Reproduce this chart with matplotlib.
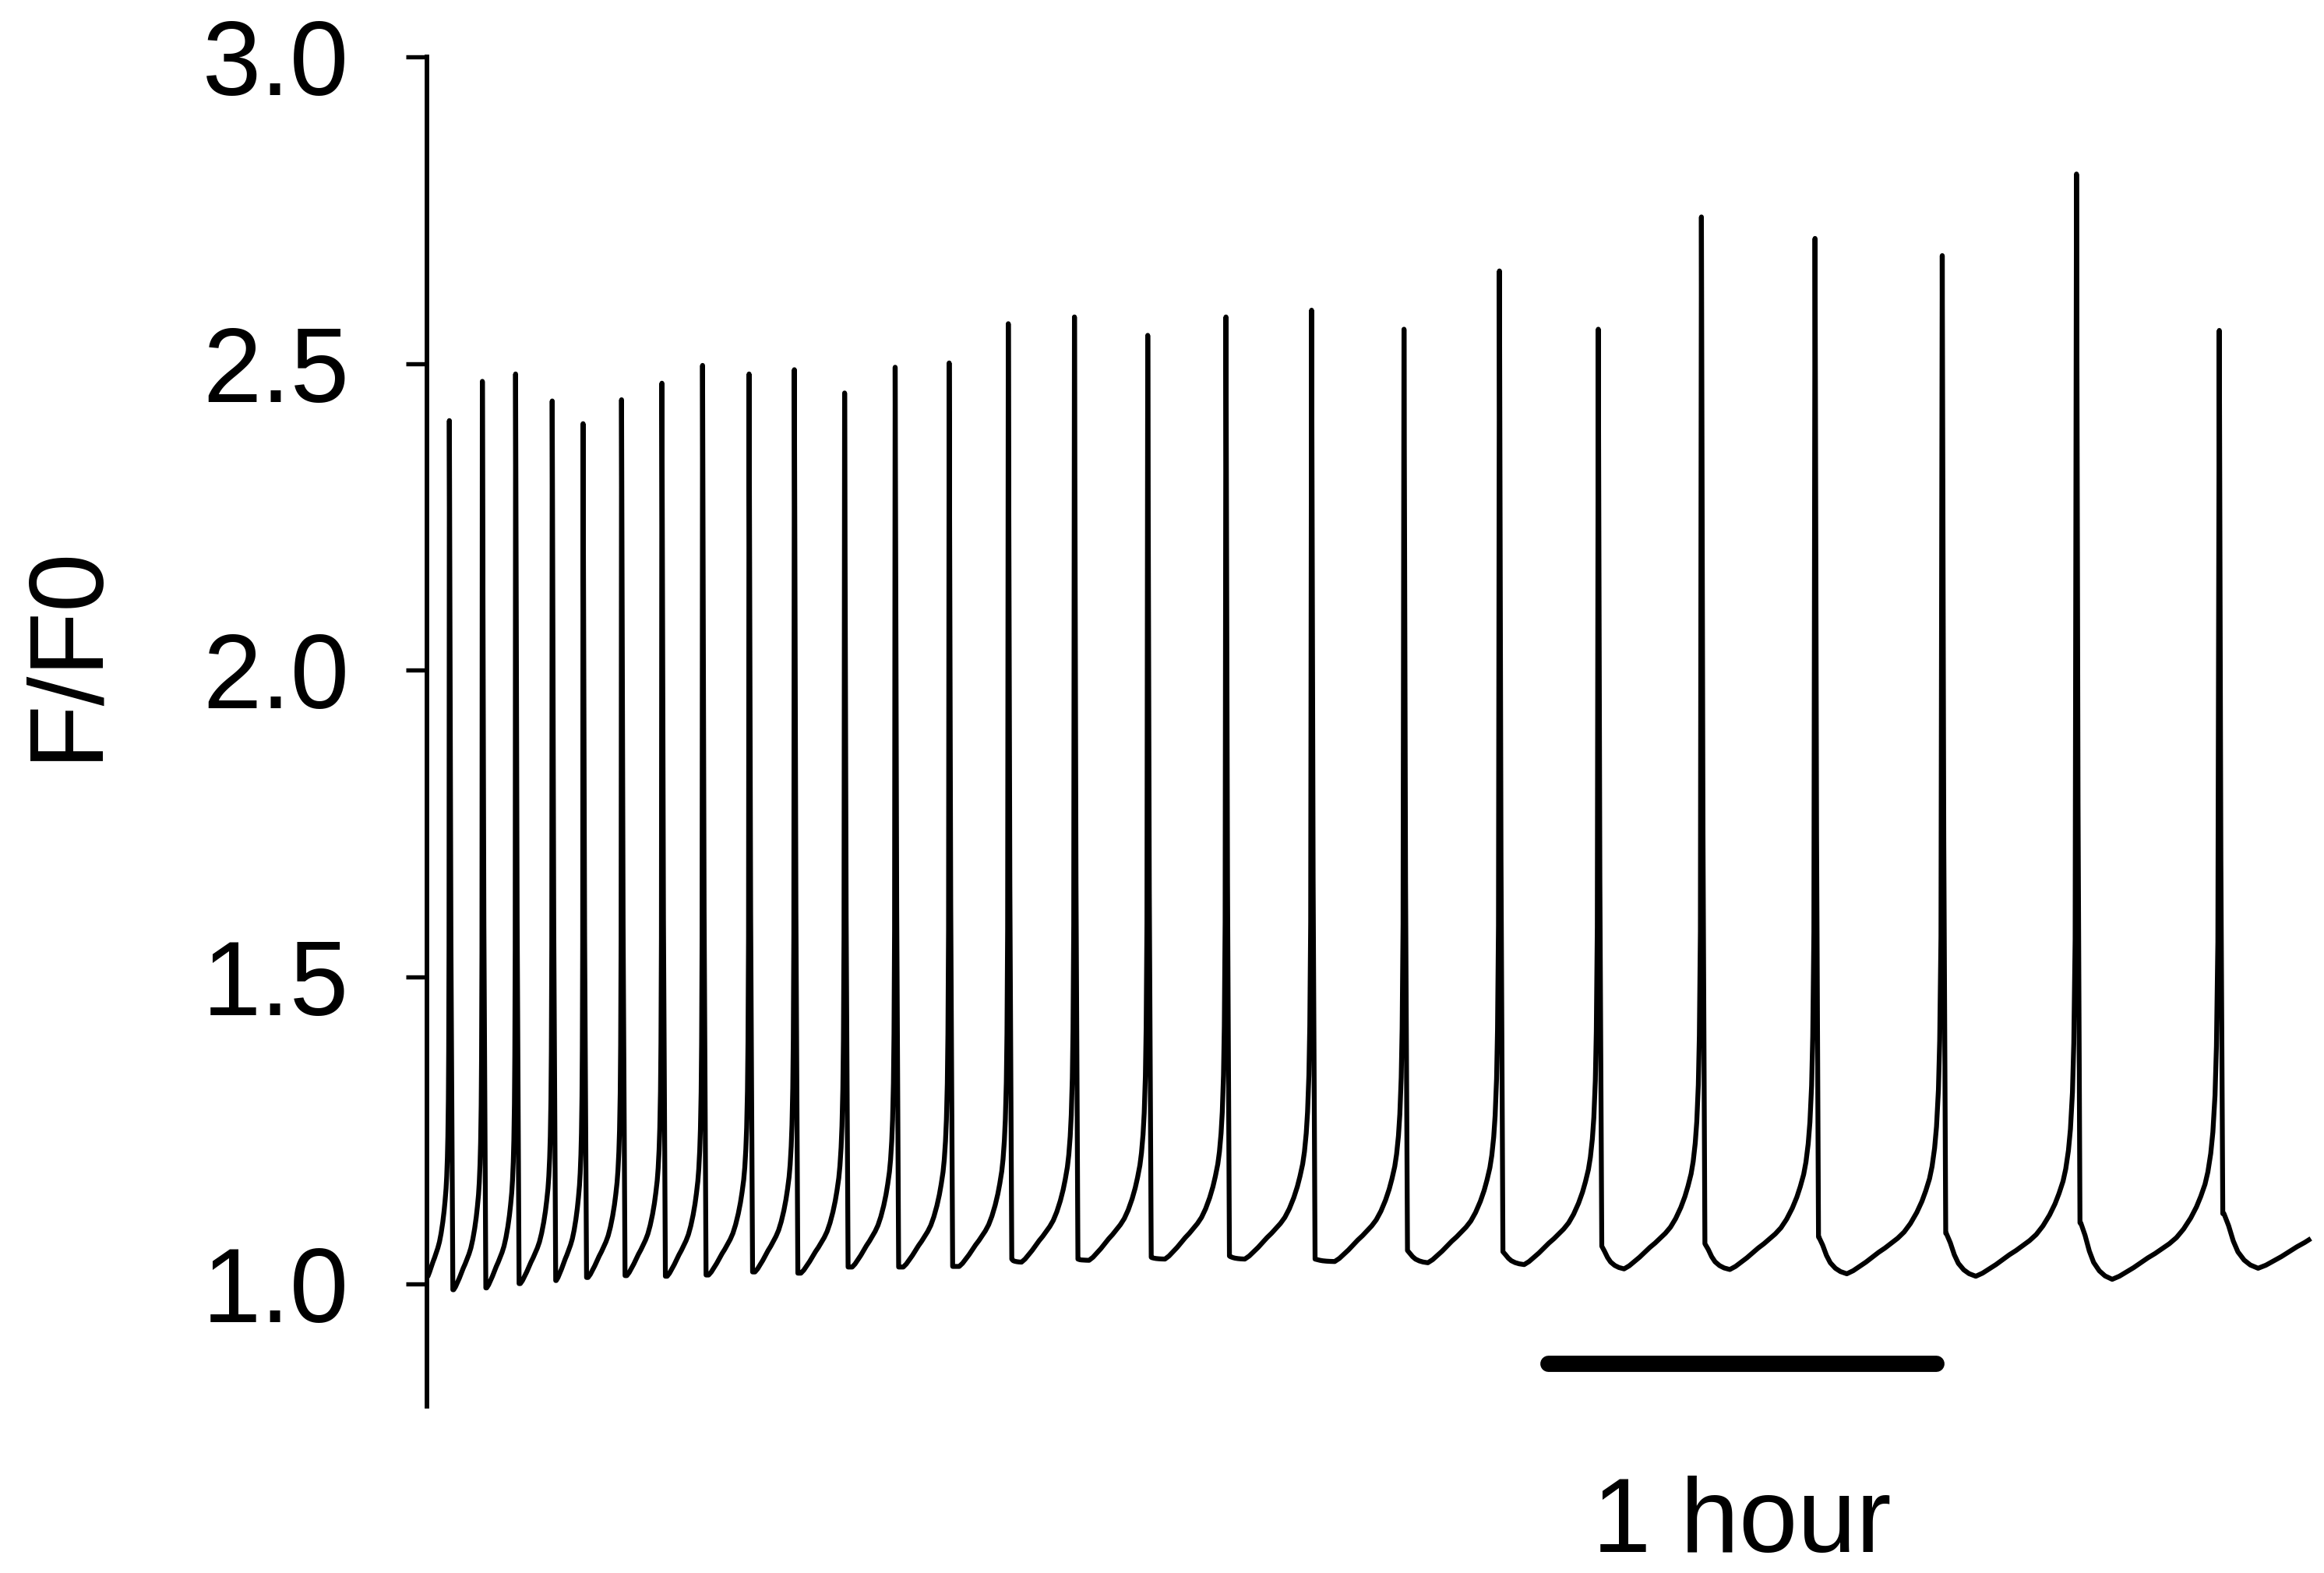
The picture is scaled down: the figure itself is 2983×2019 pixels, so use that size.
import numpy as np
import matplotlib
matplotlib.use("Agg")
import matplotlib.pyplot as plt

plt.rcParams['font.family'] = ['Liberation Sans', 'DejaVu Sans']

# ---- data ----
# spike (peak) times in hours, peak F/F0
spike_t = [0.0578, 0.1428, 0.2285, 0.3229, 0.4024, 0.5016, 0.6056, 0.7104,
           0.8303, 0.9470, 1.0765, 1.2068, 1.3460, 1.4984, 1.6689, 1.8578,
           2.0594, 2.2801, 2.5183, 2.7643, 3.0191, 3.2849, 3.5777, 3.9056,
           4.2516, 4.6197]
peak = [2.407, 2.471, 2.483, 2.439, 2.402, 2.441, 2.468, 2.497,
        2.483, 2.490, 2.452, 2.494, 2.501, 2.565, 2.576, 2.546,
        2.576, 2.587, 2.556, 2.651, 2.556, 2.739, 2.704, 2.676,
        2.809, 2.554]
# level reached at the end of the fast fall after each spike
post = [0.990, 0.993, 1.000, 1.005, 1.010, 1.013, 1.012, 1.014,
        1.019, 1.017, 1.027, 1.027, 1.028, 1.040, 1.040, 1.043,
        1.045, 1.040, 1.054, 1.052, 1.061, 1.065, 1.076, 1.082,
        1.099, 1.114]
# minimum between spikes
trough = [0.990, 0.993, 1.000, 1.005, 1.010, 1.013, 1.012, 1.014,
          1.019, 1.017, 1.027, 1.027, 1.028, 1.035, 1.038, 1.040,
          1.040, 1.036, 1.034, 1.031, 1.024, 1.023, 1.016, 1.012,
          1.007, 1.025]
# where the minimum lies (fraction of the interval after the spike)
trough_pos = [0.13, 0.13, 0.13, 0.13, 0.13, 0.13, 0.13, 0.13,
              0.13, 0.13, 0.15, 0.15, 0.17, 0.20, 0.20, 0.22,
              0.22, 0.25, 0.25, 0.25, 0.25, 0.25, 0.25, 0.25,
              0.25, 0.25]
start_value = 1.012          # trace value at the start of the record
end_t = 4.8504               # end of the record (hours)
# cycle shape (fraction of the inter-spike interval)
decay_frac = [0.03, 0.06, 0.09, 0.12, 0.16, 0.20, 0.25]
decay_w = [1.0, 0.78, 0.50, 0.30, 0.15, 0.06, 0.0]
rise_frac = [0.30, 0.35, 0.40, 0.45, 0.50, 0.55, 0.60, 0.65, 0.70, 0.75,
             0.80, 0.84, 0.87, 0.90, 0.92, 0.94, 0.955, 0.97, 0.98, 0.99]
rise_dv = [0.005, 0.012, 0.019, 0.027, 0.035, 0.042, 0.050, 0.058, 0.068,
           0.082, 0.100, 0.118, 0.135, 0.155, 0.175, 0.205, 0.24, 0.30,
           0.38, 0.55]
yticks = [1.0, 1.5, 2.0, 2.5, 3.0]
ytick_labels = ["1.0", "1.5", "2.0", "2.5", "3.0"]
scalebar = (2.89, 3.89)      # one hour
scalebar_label = "1 hour"
ylabel = "F/F0"


def build_trace():
    t, v = [0.0], [start_value]
    # initial partial rise towards first spike
    T0 = spike_t[1] - spike_t[0]
    for f, d in zip(rise_frac, rise_dv):
        tt = spike_t[0] - (1 - f) * T0
        if tt > 0:
            t.append(tt)
            v.append(start_value - 0.012 + d if d > 0.012 else start_value)
    n = len(spike_t)
    for i in range(n):
        ti = spike_t[i]
        t_next = spike_t[i + 1] if i + 1 < n else ti + 0.40
        T = t_next - ti
        tp = trough_pos[i]
        t.append(ti)
        v.append(peak[i])
        t.append(ti + 0.004)
        v.append(peak[i] - 0.6 * (peak[i] - post[i]))
        fall_end = ti + 0.009
        t.append(fall_end)
        v.append(post[i])
        # decay from post level to the minimum (template warped to trough_pos)
        for f, w in zip(decay_frac, decay_w):
            tt = ti + f * (tp / 0.25) * T
            if tt > fall_end + 1e-4:
                t.append(tt)
                v.append(trough[i] + w * (post[i] - trough[i]))
        # slow rise and upstroke (template warped to start at trough_pos)
        for f, d in zip(rise_frac, rise_dv):
            fw = tp + (f - 0.25) / 0.75 * (1 - tp)
            tt = ti + fw * T
            if tt > fall_end + 1e-4:
                t.append(tt)
                v.append(trough[i] + d)
    t = np.array(t)
    v = np.array(v)
    keep = t <= end_t
    t_out = list(t[keep])
    v_out = list(v[keep])
    t_out.append(end_t)
    v_out.append(np.interp(end_t, t, v))
    return np.array(t_out), np.array(v_out)


W, H, DPI = 2983, 2019, 300
fig = plt.figure(figsize=(W / DPI, H / DPI), dpi=DPI)
ax = fig.add_axes([548 / W, (H - 1805) / H, (W - 548) / W, (1805 - 73) / H])

tt, vv = build_trace()
ax.plot(tt, vv, color='black', lw=1.5, solid_joinstyle='round')

ax.set_xlim(0, (W - 548) / 498.0)
ax.set_ylim(0.8, 3.0)
for s in ['top', 'right', 'bottom']:
    ax.spines[s].set_visible(False)
ax.spines['left'].set_linewidth(1.4)
ax.spines['left'].set_bounds(0.8, 3.0)
ax.set_xticks([])
ax.set_yticks(yticks)
ax.set_yticklabels(ytick_labels)
ax.tick_params(axis='y', length=6.5, width=1.3, pad=17.5, labelsize=32.5)
ax.patch.set_visible(False)

ax.plot(list(scalebar), [0.870, 0.870], color='black', lw=5.0,
        solid_capstyle='round', clip_on=False)
ax.text(sum(scalebar) / 2, 0.563, scalebar_label, ha='center', va='baseline',
        fontsize=32.5, clip_on=False)

fig.text(86 / W, 1 - 837 / H, ylabel, rotation=90, ha='center', va='center',
         fontsize=32.5)

fig.savefig("out.png", dpi=DPI)
